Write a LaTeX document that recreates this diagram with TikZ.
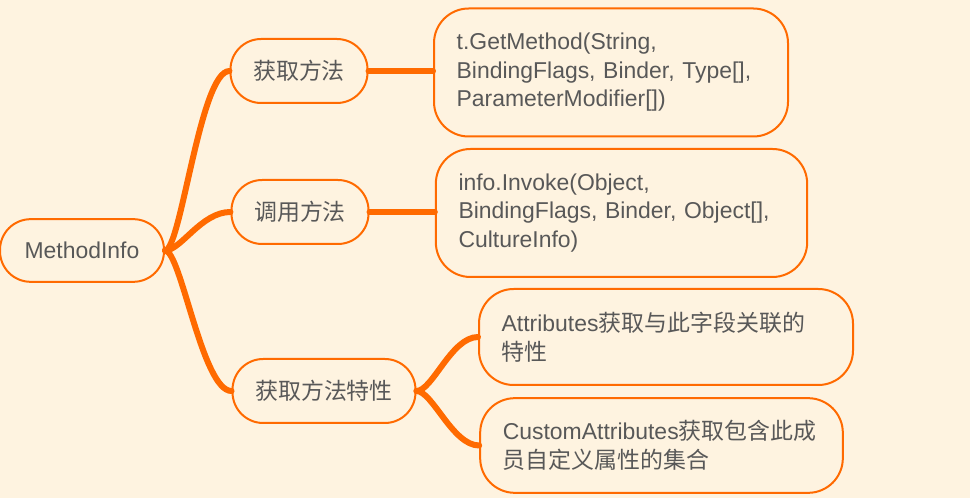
\documentclass[tikz,border=0pt]{standalone}
\usepackage{fontspec}
\setmainfont{Liberation Sans}
\newfontfamily\cjk{Noto Sans CJK SC}
\definecolor{mmorange}{HTML}{FF6A00}
\definecolor{mmbg}{HTML}{FEF3E0}
\definecolor{mmtext}{HTML}{585858}
\tikzset{
  topic/.style={draw=mmorange, line width=1.5pt, fill=mmbg, text=mmtext,
    rounded corners=23pt, inner xsep=17pt, inner ysep=0pt,
    font=\fontsize{17.2}{21.4}\selectfont},
  detail/.style={topic, align=left, rounded corners=26pt},
  branch/.style={mmorange, line width=4.5pt, line cap=round}
}
\begin{document}
\begin{tikzpicture}[x=0.75pt, y=-0.75pt]
  % background and page size
  \fill[mmbg] (0,0) rectangle (970,498);
  \useasboundingbox (0,0) rectangle (970,498);

  % root and first level
  \node[topic, minimum width=123pt, minimum height=47pt] (root) at (82,250.5) {MethodInfo};
  \node[topic, minimum width=100.5pt, minimum height=48pt] (get) at (299,71) {\cjk 获取方法};
  \node[topic, minimum width=100.5pt, minimum height=48pt] (call) at (300,212) {\cjk 调用方法};
  \node[topic, minimum width=136.5pt, minimum height=48pt] (attr) at (324,391) {\cjk 获取方法特性};

  % details
  \node[detail, text width=231.5pt, minimum height=96pt] (getm) at (611,72.5)
    {t.GetMethod(String,\\BindingFlags, Binder, Type[],\\ParameterModifier[])};
  \node[detail, text width=244.5pt, minimum height=96pt] (inv) at (621.5,213)
    {info.Invoke(Object,\\BindingFlags, Binder, Object[],\\CultureInfo)};
  \node[detail, text width=246.5pt, minimum height=72pt] (attra) at (666,337)
    {Attributes{\cjk 获取与此字段关联的}\\{\cjk 特性}};
  \node[detail, text width=238pt, minimum height=71pt] (attrc) at (661.5,445.5)
    {CustomAttributes{\cjk 获取包含此成}\\{\cjk 员自定义属性的集合}};

  % connectors
  \draw[branch] (root.east) .. controls +(12pt,0) and +(-22pt,0) .. (get.west);
  \draw[branch] (root.east) .. controls +(12pt,0) and +(-22pt,0) .. (call.west);
  \draw[branch] (root.east) .. controls +(12pt,0) and +(-22pt,0) .. (attr.west);
  \draw[branch] (get.east) -- (get.east -| getm.west);
  \draw[branch] (call.east) -- (call.east -| inv.west);
  \draw[branch] (attr.east) .. controls +(12pt,0) and +(-20pt,0) .. (attra.west);
  \draw[branch] (attr.east) .. controls +(12pt,0) and +(-20pt,0) .. (attrc.west);
\end{tikzpicture}
\end{document}
